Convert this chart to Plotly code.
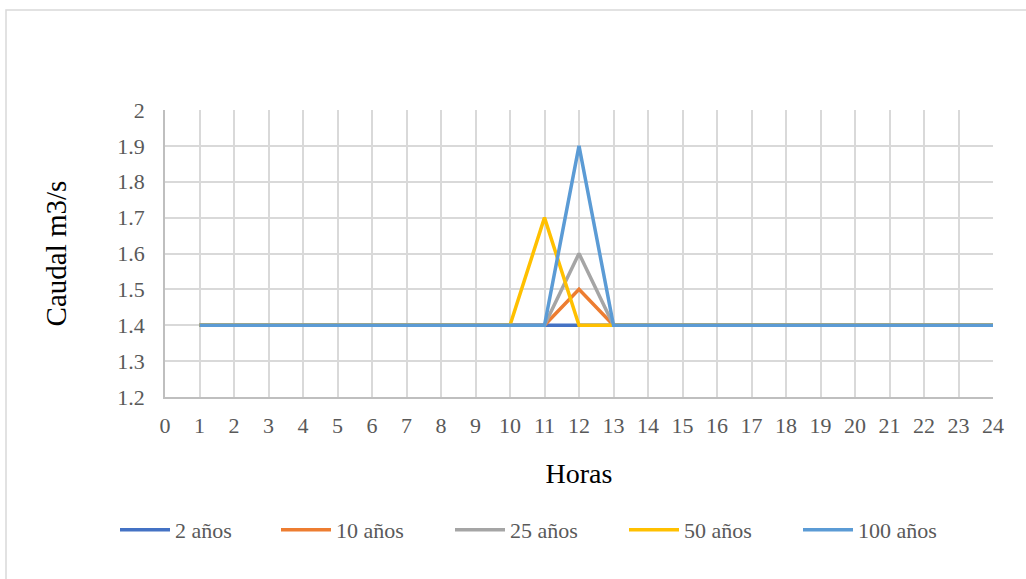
import plotly.graph_objects as go

horas = list(range(1, 25))
q_2 = [1.4] * 24
q_10 = [1.4] * 11 + [1.5] + [1.4] * 12
q_25 = [1.4] * 11 + [1.6] + [1.4] * 12
q_50 = [1.4] * 10 + [1.7] + [1.4] * 13
q_100 = [1.4] * 11 + [1.9] + [1.4] * 12

series_names = ["2 años", "10 años", "25 años", "50 años", "100 años"]
series_vals = [q_2, q_10, q_25, q_50, q_100]
colors = ["#4472C4", "#ED7D31", "#A5A5A5", "#FFC000", "#5B9BD5"]
legend_px = [119, 280, 454, 628, 802]

FONT = "Liberation Serif"
L, R, T, B = 165, 33, 110, 182
W, H = 1026, 579
pw, ph = W - L - R, H - T - B


def px_x(p):
    return (p - L) / pw


def px_y(p):
    return (H - B - p) / ph


fig = go.Figure()
legend_layout = {}
for i, (name, vals, c, lx) in enumerate(zip(series_names, series_vals, colors, legend_px)):
    key = "legend" if i == 0 else f"legend{i + 1}"
    fig.add_trace(go.Scatter(x=horas, y=vals, mode="lines", name=name,
                             line=dict(color=c, width=3.5), legend=key))
    legend_layout[key] = dict(
        orientation="h", x=px_x(lx - 4), xanchor="left",
        y=px_y(530), yanchor="middle", bgcolor="rgba(0,0,0,0)",
        font=dict(family=FONT, size=22, color="#595959"),
        itemwidth=50)

fig.add_shape(type="rect", xref="paper", yref="paper",
              x0=px_x(6), x1=px_x(1040), y0=px_y(600), y1=px_y(10),
              line=dict(color="#D9D9D9", width=1.5), fillcolor="rgba(0,0,0,0)")

fig.update_layout(
    width=W, height=H,
    margin=dict(l=L, r=R, t=T, b=B),
    paper_bgcolor="white", plot_bgcolor="white",
    font=dict(family=FONT, color="#595959", size=21),
    showlegend=True,
    xaxis=dict(range=[0, 24], dtick=1, tick0=0, showgrid=True,
               gridcolor="#D9D9D9", gridwidth=1.5, zeroline=False,
               showline=True, linecolor="#BFBFBF", linewidth=1.5,
               ticks="", ticklabelstandoff=8,
               tickfont=dict(family=FONT, size=22, color="#595959"),
               title=dict(text="Horas", standoff=26,
                          font=dict(family=FONT, size=28, color="#000000"))),
    yaxis=dict(range=[1.2, 2.0], dtick=0.1, tick0=1.2, showgrid=True,
               gridcolor="#D9D9D9", gridwidth=1.5, zeroline=False,
               showline=True, linecolor="#BFBFBF", linewidth=1.5,
               ticks="", ticklabelstandoff=14,
               tickformat=".1~f",
               tickfont=dict(family=FONT, size=22, color="#595959"),
               title=dict(text="Caudal m3/s", standoff=42,
                          font=dict(family=FONT, size=29, color="#000000"))),
    **legend_layout,
)

fig.write_html("out.html", config={"displayModeBar": False},
               post_script="document.body.style.margin='0';")
